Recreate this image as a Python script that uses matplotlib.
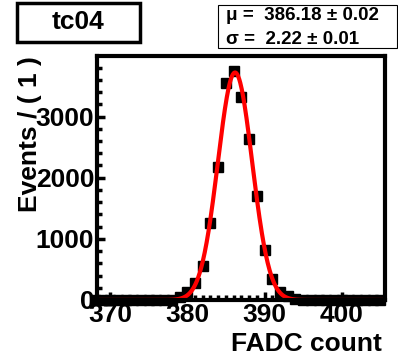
import numpy as np
import matplotlib
matplotlib.use("Agg")
import matplotlib.pyplot as plt
from matplotlib.patches import Rectangle
from matplotlib.ticker import MultipleLocator

# histogram (bin centre -> events)
bins = list(range(368, 406))
counts = [0, 0, 0, 0, 0, 0, 0, 0, 0, 0, 8, 41, 137, 273, 557, 1257, 2175, 3552, 3743,
          3317, 2634, 1694, 820, 339, 137, 62, 18, 4, 0, 0, 0, 0, 0, 0, 0, 0, 0, 0]

# gaussian fit shown in the stat box
fit_mean = 386.18
fit_sigma = 2.22
fit_peak = 3720

title = "tc04"
stat_lines = ["\u03bc =  386.18 \u00b1 0.02", "\u03c3 =  2.22 \u00b1 0.01"]

plt.rcParams["font.family"] = ["Liberation Sans", "DejaVu Sans"]
plt.rcParams["font.weight"] = "bold"
plt.rcParams["axes.labelweight"] = "bold"

fig = plt.figure(figsize=(3.98, 3.61), dpi=100)
ax = fig.add_axes([0.2437, 0.1690, 0.7236, 0.6759])

xs = np.linspace(368.3, 405.6, 600)
ax.plot(xs, fit_peak * np.exp(-0.5 * ((xs - fit_mean) / fit_sigma) ** 2),
        color="red", lw=3, zorder=3)
ax.plot(bins, counts, ls="none", marker="s", ms=7, color="black",
        clip_on=False, zorder=2)

ax.set_xlim(368.3, 405.6)
ax.set_ylim(0, 3990)
ax.xaxis.set_major_locator(MultipleLocator(10))
ax.xaxis.set_minor_locator(MultipleLocator(1))
ax.yaxis.set_major_locator(MultipleLocator(1000))
ax.yaxis.set_minor_locator(MultipleLocator(200))
ax.tick_params(which="both", direction="in", width=2.5, labelsize=19, pad=2)
ax.tick_params(which="major", length=6)
ax.tick_params(which="minor", length=3.5)
for sp in ax.spines.values():
    sp.set_linewidth(3)
    sp.set_zorder(4)

ax.set_xlabel("FADC count", fontsize=19, loc="right")
ax.xaxis.set_label_coords(0.99, -0.13)
ax.set_ylabel("Events / ( 1 )", fontsize=19, loc="top")
ax.yaxis.set_label_coords(-0.19, 1.0)

# title box
fig.patches.append(Rectangle((17 / 398, 1 - 42 / 361), 123 / 398, 39 / 361,
                             transform=fig.transFigure, fill=False, lw=2.5,
                             edgecolor="black"))
fig.text(78 / 398, 1 - 22 / 361, title, fontsize=19, ha="center", va="center")

# stat box
fig.patches.append(Rectangle((218 / 398, 1 - 48 / 361), 179 / 398, 43 / 361,
                             transform=fig.transFigure, fill=False, lw=0.8,
                             edgecolor="black"))
fig.text(226 / 398, 1 - 16 / 361, stat_lines[0], fontsize=13.5, va="center")
fig.text(226 / 398, 1 - 40 / 361, stat_lines[1], fontsize=13.5, va="center")

fig.savefig("out.png", dpi=100)
